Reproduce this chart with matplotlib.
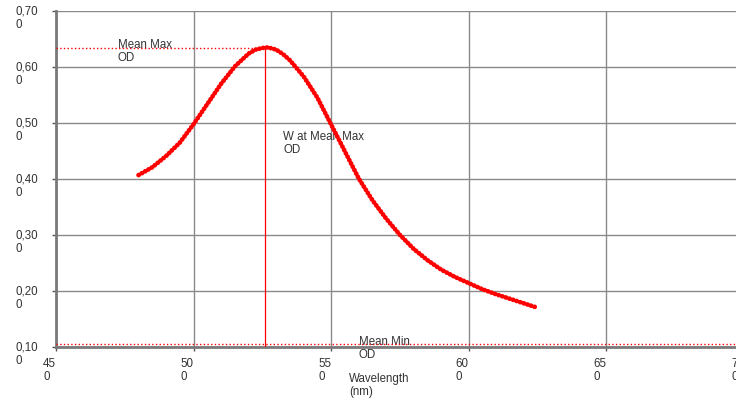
import matplotlib.pyplot as plt
import matplotlib.transforms as mtransforms

plt.rcParams['font.family'] = ['Liberation Sans', 'DejaVu Sans']

# wavelength (nm) and mean optical density
wavelength = [480, 485, 490, 495, 500, 505, 510, 515, 520, 522.5, 525, 527, 530,
              532.5, 535, 540, 545, 550, 555, 560, 565, 570, 575, 580, 585, 590,
              595, 600, 605, 610, 615, 620, 625]
mean_od = [0.407, 0.421, 0.441, 0.465, 0.498, 0.534, 0.570, 0.601, 0.624, 0.631,
           0.634, 0.635, 0.631, 0.623, 0.612, 0.583, 0.545, 0.497, 0.449, 0.401,
           0.362, 0.329, 0.300, 0.275, 0.255, 0.238, 0.225, 0.214, 0.203, 0.194,
           0.186, 0.178, 0.170]

max_od = 0.634
w_at_max = 526
min_od = 0.105

x_ticks = [450, 500, 550, 600, 650, 700]
x_labels = ['45\n0', '50\n0', '55\n0', '60\n0', '65\n0', '70\n0']
y_ticks = [0.10, 0.20, 0.30, 0.40, 0.50, 0.60, 0.70]
y_labels = ['0,10\n0', '0,20\n0', '0,30\n0', '0,40\n0', '0,50\n0', '0,60\n0', '0,70\n0']

W, H = 736, 401
fig = plt.figure(figsize=(W / 100, H / 100), dpi=100)
ax = fig.add_axes([56 / W, 1 - 347 / H, (744 - 56) / W, (347 - 11) / H])

ax.set_xlim(450, 700)
ax.set_ylim(0.10, 0.70)
ax.set_xticks(x_ticks)
ax.set_yticks(y_ticks)
ax.set_xticklabels([])
ax.set_yticklabels([])
ax.grid(True, color='#8a8a8a', lw=1.0)
ax.set_axisbelow(True)
for s in ['top', 'right']:
    ax.spines[s].set_visible(False)
for s in ['left', 'bottom']:
    ax.spines[s].set_color('#7a7a7a')
    ax.spines[s].set_linewidth(2)
ax.tick_params(length=3, width=1, color='#555555')

txt_color = '#333333'
fs = 8.3

# y tick labels (wrapped like the original)
ty = mtransforms.blended_transform_factory(fig.transFigure, ax.transData)
off = mtransforms.ScaledTranslation(0, 4 / 72, fig.dpi_scale_trans)
for v, lab in zip(y_ticks, y_labels):
    ax.text(15 / W, v, lab, transform=ty + off, ha='left', va='top',
            fontsize=fs, color=txt_color, linespacing=1.15, clip_on=False)

# x tick labels
tx = mtransforms.blended_transform_factory(ax.transData, fig.transFigure)
for v, lab in zip(x_ticks, x_labels):
    ax.text(v, 1 - 358 / H, lab, transform=tx, ha='right', va='top',
            fontsize=fs, color=txt_color, linespacing=1.15, clip_on=False,
            multialignment='left')

ax.text(556.5, 1 - 373 / H, 'Wavelength\n(nm)', transform=tx, ha='left', va='top',
        fontsize=fs, color=txt_color, linespacing=1.15, clip_on=False)

# reference lines
ax.plot([450, w_at_max], [max_od, max_od], color='#ff0000', lw=1.0, ls=':', zorder=3)
ax.plot([w_at_max, w_at_max], [0.10, max_od], color='#ff0000', lw=0.9, zorder=3)
ax.plot([450, 700], [min_od, min_od], color='#ff0000', lw=1.0, ls=':', zorder=3)

ax.text(472.5, 0.650, 'Mean Max\nOD', fontsize=fs, color=txt_color, va='top',
        ha='left', linespacing=1.15, zorder=2)
ax.text(532.5, 0.486, 'W at Mean Max\nOD', fontsize=fs, color=txt_color, va='top',
        ha='left', linespacing=1.15, zorder=2)
ax.text(560, 0.120, 'Mean Min\nOD', fontsize=fs, color=txt_color, va='top',
        ha='left', linespacing=1.15, zorder=2, clip_on=False)

# the OD curve, drawn as dense round dots
ax.plot(wavelength, mean_od, color='#ff0000', lw=3.4, ls=(0, (0.05, 0.75)),
        dash_capstyle='round', solid_capstyle='round', zorder=4)

fig.savefig('out.png', dpi=100)
